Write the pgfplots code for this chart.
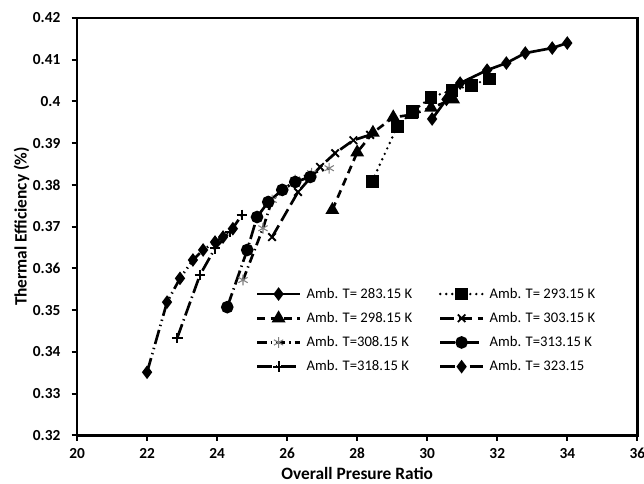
\documentclass[border=0pt]{standalone}
\usepackage{fontspec}
\setmainfont{Carlito}
\usepackage{pgfplots}
\pgfplotsset{compat=1.18}

\begin{document}
\begin{tikzpicture}
\useasboundingbox (-57.75pt,-36pt) rectangle (425pt,326.25pt);
\begin{axis}[
    at={(0,0)}, anchor=south west,
    scale only axis,
    width=420pt, height=312.75pt,
    xmin=20, xmax=36, ymin=0.32, ymax=0.42,
    xtick={20,22,...,36},
    ytick={0.32,0.33,...,0.42},
    yticklabel style={/pgf/number format/fixed, /pgf/number format/precision=2, xshift=-5pt},
    xticklabel style={yshift=-2pt},
    /pgf/number format/assume math mode=true,
    ticklabel style={font=\fontsize{11.5}{13}\selectfont\bfseries},
    tick align=outside, tick pos=left,
    major tick length=4pt,
    axis line style={line width=2pt},
    every tick/.style={black, line width=1.5pt},
    xlabel={Overall Presure Ratio},
    ylabel={Thermal Efficiency (\%)},
    label style={font=\fontsize{13}{15}\selectfont\bfseries},
    xlabel style={at={(axis description cs:0.5,-0.091)}, anchor=center},
    ylabel style={at={(axis description cs:-0.099,0.5)}, anchor=center},
    legend columns=2,
    legend cell align=left,
    legend style={draw=none, fill=none, at={(axis cs:25.1,0.3560)}, anchor=north west,
        font=\fontsize{11}{13}\selectfont, column sep=2pt, row sep=5pt, inner sep=0pt,
        /tikz/every even column/.append style={column sep=18pt}},
    legend image code/.code={
        \draw[mark repeat=2,mark phase=2,#1] plot coordinates {(0pt,0pt) (16pt,0pt) (32pt,0pt)};},
    every axis plot/.append style={black, line width=2pt, mark size=3.5pt},
]
% 283.15 K
\addplot[solid, mark=diamond*, mark options={solid}] coordinates {
(30.14,0.3958) (30.55,0.4005) (30.94,0.4044) (31.71,0.4075) (32.26,0.4092) (32.8,0.4116) (33.57,0.4128) (34.0,0.414)};
\addlegendentry{Amb. T= 283.15 K}
% 293.15 K
\addplot[line cap=round, dash pattern=on 0pt off 4.5pt, mark=square*, mark size=3.8pt, mark options={solid}] coordinates {
(28.43,0.3809) (29.14,0.3939) (29.57,0.3975) (30.11,0.401) (30.71,0.4027) (31.26,0.4039) (31.77,0.4054)};
\addlegendentry{Amb. T= 293.15 K}
% 298.15 K
\addplot[dash pattern=on 6pt off 4pt, mark=triangle*, mark size=4pt, mark options={solid}] coordinates {
(27.29,0.374) (28.0,0.3878) (28.45,0.3925) (29.03,0.3962) (29.55,0.3968) (30.11,0.3985) (30.74,0.4005)};
\addlegendentry{Amb. T= 298.15 K}
% 303.15 K
\addplot[dash pattern=on 10pt off 4pt, mark=x, mark size=4pt, mark options={solid, line width=1.4pt}] coordinates {
(25.57,0.3675) (26.31,0.3783) (26.94,0.3843) (27.37,0.3876) (27.89,0.3907) (28.37,0.392)};
\addlegendentry{Amb. T= 303.15 K}
% 308.15 K
\addplot[dash pattern=on 7pt off 3pt on 1pt off 3pt, mark=asterisk, mark size=4pt, mark options={solid, draw=gray, line width=0.8pt}] coordinates {
(24.74,0.3572) (25.31,0.3696) (25.57,0.3764) (26.23,0.3812) (26.7,0.3828) (27.2,0.384)};
\addlegendentry{Amb. T=308.15 K}
% 313.15 K
\addplot[dash pattern=on 11pt off 3pt on 1pt off 3pt, mark=*, mark size=3.7pt, mark options={solid}] coordinates {
(24.29,0.3507) (24.86,0.3644) (25.14,0.3723) (25.46,0.3759) (25.86,0.3788) (26.23,0.3807) (26.66,0.3819)};
\addlegendentry{Amb. T=313.15 K}
% 318.15 K
\addplot[dash pattern=on 11pt off 3pt on 1pt off 3pt, mark=+, mark size=4pt, mark options={solid, line width=1.6pt}] coordinates {
(22.86,0.3433) (23.51,0.3584) (23.94,0.3648) (24.37,0.3687) (24.71,0.3728)};
\addlegendentry{Amb. T=318.15 K}
% 323.15 K
\addplot[dash pattern=on 11pt off 3pt on 1pt off 3pt on 1pt off 3pt, mark=diamond*, mark options={solid}] coordinates {
(22.0,0.3351) (22.57,0.3519) (22.94,0.3576) (23.31,0.362) (23.6,0.3644) (23.94,0.3663) (24.17,0.3675) (24.45,0.3695)};
\addlegendentry{Amb. T= 323.15}
\end{axis}
\end{tikzpicture}
\end{document}
